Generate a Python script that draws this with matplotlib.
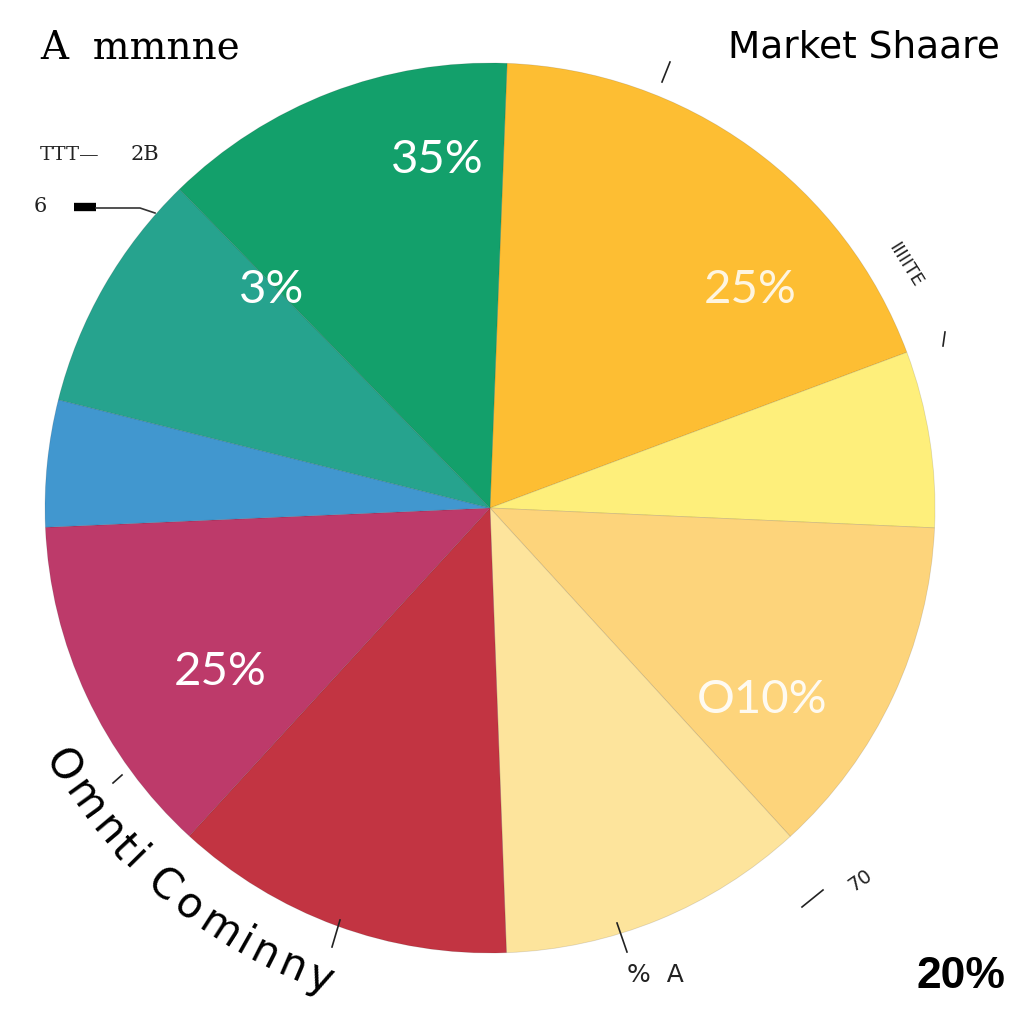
import numpy as np
import matplotlib
matplotlib.use("Agg")
import matplotlib.pyplot as plt

# ---- data (clockwise from 12 o'clock) ----
segments = ["Orange", "Light yellow", "Light orange", "Pale yellow", "Red",
            "Magenta", "Blue", "Teal", "Green"]
shares = [18.7, 6.4, 12.5, 11.2, 12.4, 12.5, 4.6, 8.8, 12.9]
colors = ["#FDBE33", "#FEEF7B", "#FDD47B", "#FDE49C", "#C23442",
          "#BD3A6A", "#4197CF", "#26A38E", "#13A06B"]

inner_labels = ["35%", "3%", "25%", "O10%", "25%"]
title_text = "Market Shaare"
top_left_text = "A  mmnne"
curved_text = "Omnti Cominny"
corner_text = "20%"

W = 1024
fig = plt.figure(figsize=(10.24, 10.24), dpi=100)
ax = fig.add_axes([0, 0, 1, 1])

cx, cy, R = 490, W - 508, 445

ax.pie(shares, colors=colors, startangle=87.8, counterclock=False,
       center=(cx, cy), radius=R, frame=True,
       wedgeprops=dict(linewidth=0.6, edgecolor=(0, 0, 0, 0.12)))
ax.set_xlim(0, W)
ax.set_ylim(0, W)
ax.set_aspect("equal")
ax.axis("off")

def P(x, y):
    return x, W - y

# inner percentage labels
lab_pos = [(437, 160), (272, 290), (750, 290), (762, 700), (220, 672)]
lab_alpha = [1.0, 1.0, 0.85, 0.9, 1.0]
for t, (x, y), a in zip(inner_labels, lab_pos, lab_alpha):
    ax.text(*P(x, y), t, color="white", alpha=a, fontsize=34,
            ha="center", va="center", family="Lato")

# titles
ax.text(*P(40, 48), top_left_text, fontsize=28, ha="left", va="center",
        color="black", family="DejaVu Serif")
ax.text(*P(1000, 48), title_text, fontsize=27, ha="right", va="center",
        color="black", family="DejaVu Sans")

# corner labels
ax.text(*P(1005, 977), corner_text, fontsize=32, fontweight="bold",
        ha="right", va="center", color="black", family="Liberation Sans")
ax.text(*P(655, 975), "%  A", fontsize=18, ha="center", va="center",
        color="#222222")
ax.text(*P(860, 880), "70", fontsize=14, rotation=35, ha="center",
        va="center", color="#222222")
ax.text(*P(905, 265), "IIIIITE", fontsize=13, rotation=-58, ha="center",
        va="center", color="#222222")

# small left legend-like marks
ax.text(*P(40, 155), "TTT—", fontsize=14, ha="left", va="center",
        color="#222222", family="DejaVu Serif")
ax.text(*P(145, 155), "2B", fontsize=15, ha="center", va="center",
        color="#222222", family="DejaVu Serif")
ax.text(*P(40, 207), "6", fontsize=15, ha="center", va="center",
        color="#222222", family="DejaVu Serif")
ax.plot([74, 96], [W - 207, W - 207], color="black", lw=6,
        solid_capstyle="butt")
ax.plot([96, 140, 155], [W - 208, W - 208, W - 213], color="#333333", lw=1.2)

# leader ticks
for (x0, y0, x1, y1) in [(662, 82, 670, 62), (945, 332, 943, 346),
                         (340, 920, 332, 947), (617, 923, 627, 952),
                         (802, 907, 823, 890), (113, 783, 122, 775)]:
    ax.plot([x0, x1], [W - y0, W - y1], color="#222222", lw=1.2)

# curved text along bottom-left arc (spacing by rough glyph widths)
wmap = {"i": 0.45, "t": 0.55, " ": 0.5, "m": 1.45, "O": 1.2, "C": 1.1}
widths = np.array([wmap.get(c, 1.0) for c in curved_text])
cum = np.cumsum(widths) - widths / 2
frac = cum / widths.sum()
rr = 500
angles = 209 + frac * (252 - 209)
for ch, th in zip(curved_text, angles):
    t = np.deg2rad(th)
    ax.text(cx + rr * np.cos(t), cy + rr * np.sin(t), ch, fontsize=30,
            rotation=th + 90, rotation_mode="anchor", ha="center",
            va="center", color="black")

fig.savefig("out.png", dpi=100, facecolor="white")
